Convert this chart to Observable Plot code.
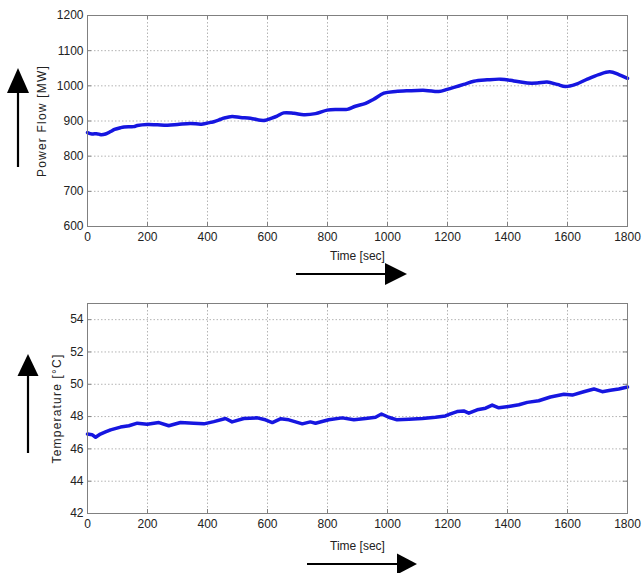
<!DOCTYPE html>
<html>
<head>
<meta charset="utf-8">
<script src="https://cdn.jsdelivr.net/npm/d3@7"></script>
<script src="https://cdn.jsdelivr.net/npm/@observablehq/plot@0.6"></script>
<style>
  html, body { margin: 0; padding: 0; background: #fff; }
  #wrap { position: relative; width: 642px; height: 573px; }
  #wrap > svg.plot { display: block; }
  #arrows { position: absolute; left: 0; top: 0; pointer-events: none; }
</style>
</head>
<body>
<div id="wrap"></div>
<script>
// ---- Data ----
const powerTime = [0, 15, 30, 45, 60, 77, 90, 110, 122, 154, 166, 199, 233, 267, 300, 343, 380, 410, 421, 444, 454, 482, 510, 543, 577, 593, 610, 632, 654, 688, 721, 760, 799, 832, 866, 893, 927, 954, 988, 1027, 1071, 1127, 1171, 1199, 1227, 1254, 1288, 1332, 1377, 1421, 1466, 1499, 1532, 1566, 1593, 1627, 1666, 1704, 1741, 1771, 1800];
const powerMW   = [867, 863, 864, 861, 863, 870, 876, 881, 883, 884, 887, 890, 889, 888, 890, 893, 891, 896, 898, 905, 908, 913, 910, 908, 902, 902, 907, 914, 923, 922, 918, 921, 931, 933, 933, 942, 950, 962, 979, 984, 986, 987, 984, 990, 997, 1004, 1013, 1017, 1019, 1014, 1008, 1008, 1011, 1004, 998, 1004, 1019, 1032, 1040, 1032, 1021];

const tempTime = [0, 15, 27, 43, 60, 77, 110, 138, 166, 199, 238, 271, 310, 354, 388, 421, 460, 482, 521, 566, 593, 616, 643, 671, 716, 743, 760, 804, 849, 888, 927, 960, 980, 1004, 1032, 1071, 1116, 1160, 1193, 1210, 1232, 1254, 1271, 1299, 1327, 1349, 1371, 1404, 1438, 1466, 1504, 1543, 1588, 1616, 1654, 1688, 1716, 1743, 1771, 1800];
const tempC    = [46.92, 46.88, 46.72, 46.92, 47.05, 47.18, 47.35, 47.43, 47.59, 47.53, 47.63, 47.43, 47.63, 47.59, 47.55, 47.69, 47.88, 47.67, 47.88, 47.92, 47.80, 47.63, 47.86, 47.80, 47.55, 47.67, 47.59, 47.80, 47.92, 47.80, 47.88, 47.96, 48.16, 47.96, 47.80, 47.84, 47.88, 47.96, 48.04, 48.17, 48.31, 48.35, 48.21, 48.42, 48.52, 48.71, 48.54, 48.63, 48.73, 48.88, 48.98, 49.21, 49.38, 49.33, 49.54, 49.71, 49.54, 49.63, 49.71, 49.83];

const timeTicks  = [0, 200, 400, 600, 800, 1000, 1200, 1400, 1600, 1800];
const powerTicks = [600, 700, 800, 900, 1000, 1100, 1200];
const tempTicks  = [42, 44, 46, 48, 50, 52, 54];

const xLabel = "Time [sec]";
const powerLabel = "Power Flow [MW]";
const tempLabel = "Temperature [°C]";

// ---- Styling ----
const LINE = "#1616e0";
const GRID = "#b4b4b4";
const FRAME = "#808080";
const FONT = "'Liberation Sans', Arial, sans-serif";

function panel({xs, ys, yDomain, yTicks, yLabel, height, mt, mb, yLabelOffset, xLabelOffset, curve}) {
  const data = xs.map((t, i) => ({t, v: ys[i]}));
  const ph = height - mt - mb;
  return Plot.plot({
    width: 642,
    height,
    marginLeft: 87,
    marginRight: 15,
    marginTop: mt,
    marginBottom: mb,
    style: {fontFamily: FONT, fontSize: "12px", color: "#222", background: "#fff"},
    x: {domain: [0, 1800], ticks: timeTicks},
    y: {domain: yDomain, ticks: yTicks},
    marks: [
      Plot.gridX(timeTicks, {stroke: GRID, strokeOpacity: 1, strokeDasharray: "1.5,2"}),
      Plot.gridY(yTicks, {stroke: GRID, strokeOpacity: 1, strokeDasharray: "1.5,2"}),
      Plot.tickX(timeTicks, {x: d => d, stroke: FRAME, insetTop: ph - 4}),
      Plot.tickX(timeTicks, {x: d => d, stroke: FRAME, insetBottom: ph - 4}),
      Plot.tickY(yTicks, {y: d => d, stroke: FRAME, insetRight: 540 - 4}),
      Plot.tickY(yTicks, {y: d => d, stroke: FRAME, insetLeft: 540 - 4}),
      Plot.axisX({ticks: timeTicks, tickFormat: d => String(d), tickSize: 0, tickPadding: 6, fontSize: 12, label: xLabel, labelAnchor: "center", labelArrow: "none", labelOffset: xLabelOffset, fill: "#222"}),
      Plot.axisY({ticks: yTicks, tickFormat: d => String(d), tickSize: 0, tickPadding: 4, fontSize: 12, label: yLabel, labelAnchor: "center", labelArrow: "none", labelOffset: yLabelOffset, fill: "#222"}),
      Plot.line(data, {x: "t", y: "v", stroke: LINE, strokeWidth: 3.5, curve}),
      Plot.frame({stroke: FRAME, strokeWidth: 1})
    ]
  });
}

const wrap = document.getElementById("wrap");

const topPlot = panel({xs: powerTime, ys: powerMW, yDomain: [600, 1200], yTicks: powerTicks, yLabel: powerLabel,
  height: 290, mt: 15, mb: 64, yLabelOffset: 50, xLabelOffset: 33, curve: "catmull-rom"});
const bottomPlot = panel({xs: tempTime, ys: tempC, yDomain: [42, 55], yTicks: tempTicks, yLabel: tempLabel,
  height: 283, mt: 13, mb: 60, yLabelOffset: 35, xLabelOffset: 36, curve: "linear"});
topPlot.classList.add("plot");
bottomPlot.classList.add("plot");
wrap.appendChild(topPlot);
wrap.appendChild(bottomPlot);

for (const svg of [topPlot, bottomPlot]) {
  svg.querySelectorAll("text").forEach(t => {
    if (t.textContent === powerLabel || t.textContent === tempLabel) t.setAttribute("letter-spacing", "1.2");
  });
}

// ---- Decorative direction arrows (annotation, not data) ----
const ov = d3.select(wrap).append("svg").attr("id", "arrows").attr("width", 642).attr("height", 573);
function vArrow(x, yTip, yBase, yEnd, half) {
  ov.append("line").attr("x1", x).attr("x2", x).attr("y1", yBase).attr("y2", yEnd).attr("stroke", "#000").attr("stroke-width", 2.2);
  ov.append("path").attr("d", `M${x},${yTip}L${x - half},${yBase}L${x + half},${yBase}Z`).attr("fill", "#000");
}
function hArrow(y, xStart, xBase, xTip, half) {
  ov.append("line").attr("x1", xStart).attr("x2", xBase).attr("y1", y).attr("y2", y).attr("stroke", "#000").attr("stroke-width", 2.2);
  ov.append("path").attr("d", `M${xTip},${y}L${xBase},${y - half}L${xBase},${y + half}Z`).attr("fill", "#000");
}
vArrow(18, 68, 93, 167, 11);
hArrow(274, 296, 385, 407, 11);
vArrow(28, 354, 376, 453, 10.5);
hArrow(564, 307, 397, 417, 10.5);
</script>
</body>
</html>
